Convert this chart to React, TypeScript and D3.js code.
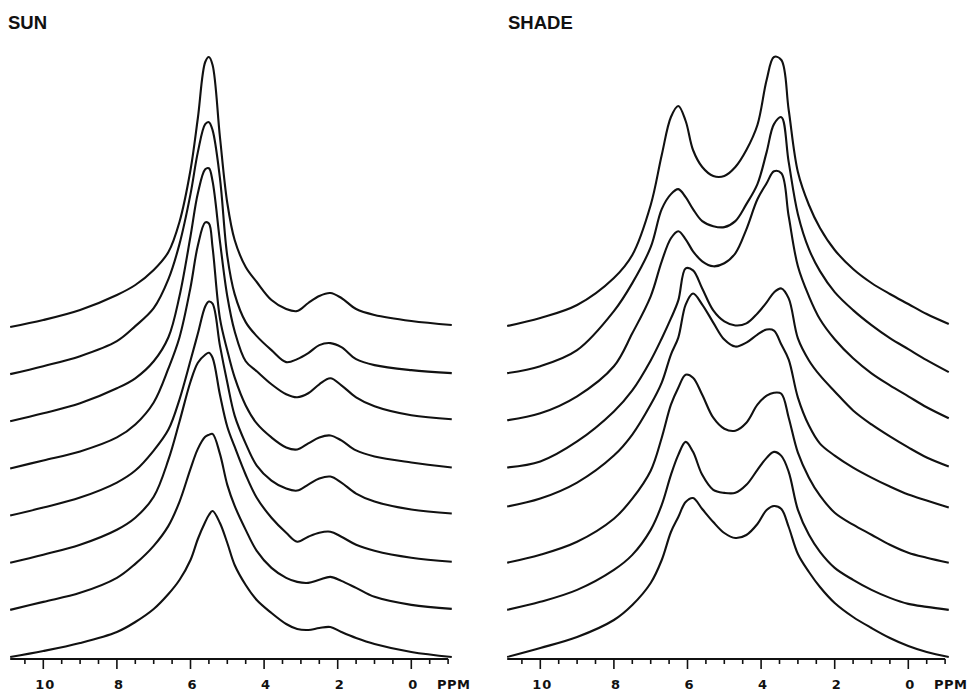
import * as d3 from 'd3'

// chemical shift grids (ppm) the traces were read at
const sunPpm = [10.9, 10, 9, 8, 7.5, 7, 6.6, 6.3, 6.0, 5.8, 5.6, 5.5, 5.4, 5.2, 5.0, 4.8, 4.5, 4.2, 3.8, 3.4, 3.1, 2.8, 2.5, 2.2, 1.9, 1.5, 1.0, 0, -1.1]
const shadePpm = [10.9, 10, 9, 8, 7.5, 7, 6.7, 6.45, 6.25, 6.05, 5.85, 5.6, 5.3, 5.0, 4.7, 4.4, 4.1, 3.85, 3.65, 3.45, 3.25, 3.0, 2.7, 2.4, 2.0, 1.5, 1.0, 0.5, 0, -0.5, -1.1]

// intensities (arb. units), trace 0 = front / bottom
const sun0 = [0, 6, 14, 25, 35, 48, 63, 77, 97, 118, 135, 142, 146, 134, 114, 92, 72, 57, 44, 33, 28, 27, 29, 30, 25, 19, 13, 5, 0]
const sun1 = [0, 8, 17, 32, 46, 64, 84, 108, 141, 161, 173, 175, 176, 156, 125, 104, 80, 59, 42, 32, 28, 27, 30, 33, 29, 22, 13, 5, 1]
const sun2 = [0, 8, 18, 33, 45, 66, 103, 141, 181, 200, 208, 210, 205, 168, 136, 116, 88, 65, 45, 30, 21, 26, 30, 31, 26, 18, 12, 5, 1]
const sun3 = [0, 8, 18, 33, 45, 65, 86, 116, 155, 182, 209, 214, 212, 170, 133, 100, 72, 50, 35, 27, 25, 31, 37, 39, 33, 22, 14, 6, 2]
const sun4 = [0, 8, 17, 31, 44, 66, 100, 131, 181, 223, 246, 245, 221, 150, 118, 91, 63, 45, 31, 21, 19, 25, 31, 33, 28, 18, 12, 6, 1]
const sun5 = [0, 8, 18, 33, 43, 60, 84, 125, 185, 228, 252, 253, 240, 180, 125, 90, 60, 50, 37, 27, 24, 28, 37, 43, 36, 24, 15, 6, 2]
const sun6 = [0, 8, 18, 33, 48, 66, 95, 130, 180, 222, 250, 252, 244, 196, 118, 80, 52, 38, 24, 12, 15, 21, 29, 31, 27, 15, 9, 4, 1]
const sun7 = [0, 7, 17, 32, 42, 57, 75, 105, 157, 209, 265, 270, 262, 190, 124, 87, 60, 45, 27, 18, 16, 24, 31, 34, 29, 18, 12, 6, 2]

const shade0 = [0, 9, 20, 37, 52, 74, 97, 125, 140, 155, 159, 148, 135, 124, 119, 122, 133, 147, 151, 148, 130, 103, 85, 70, 54, 40, 29, 19, 11, 5, 0]
const shade1 = [0, 8, 20, 40, 55, 80, 105, 135, 155, 168, 158, 135, 120, 117, 117, 125, 140, 152, 158, 154, 138, 100, 75, 58, 42, 30, 20, 12, 6, 3, 0]
const shade2 = [0, 8, 21, 44, 64, 92, 125, 158, 175, 188, 185, 168, 145, 134, 132, 140, 158, 167, 170, 169, 145, 110, 85, 67, 50, 38, 28, 18, 10, 5, 0]
const shade3 = [9, 17, 33, 60, 81, 111, 133, 161, 178, 211, 222, 211, 193, 176, 169, 173, 181, 186, 185, 171, 156, 118, 90, 72, 60, 48, 38, 29, 21, 15, 8]
const shade4 = [1, 7, 27, 57, 78, 108, 130, 150, 168, 200, 198, 180, 158, 147, 143, 145, 155, 166, 176, 180, 170, 130, 108, 93, 77, 58, 44, 32, 21, 11, 2]
const shade5 = [1, 8, 25, 55, 88, 125, 160, 183, 190, 182, 170, 160, 155, 158, 168, 192, 222, 238, 250, 248, 205, 155, 125, 102, 82, 63, 48, 36, 25, 14, 3]
const shade6 = [1, 8, 24, 63, 91, 127, 165, 180, 185, 177, 165, 153, 148, 147, 153, 170, 190, 222, 250, 257, 212, 160, 125, 103, 82, 64, 49, 36, 25, 14, 2]
const shade7 = [1, 9, 22, 49, 72, 122, 172, 210, 221, 206, 177, 160, 151, 151, 160, 177, 202, 247, 270, 267, 217, 155, 122, 99, 77, 58, 44, 33, 23, 13, 3]

const sunTraces = [sun0, sun1, sun2, sun3, sun4, sun5, sun6, sun7]
const shadeTraces = [shade0, shade1, shade2, shade3, shade4, shade5, shade6, shade7]

const majorTicks = [10, 8, 6, 4, 2, 0]
const minorTicks = d3.range(-1, 10.51, 0.5).filter(v => !majorTicks.includes(v))

const AXIS_Y = 659
const ink = '#111'

const Panel = ({ title, titleX, ppm, traces, dx }) => {
  const x = d3.scaleLinear().domain([10, 0]).range([43.3 + dx, 411.3 + dx])
  const base = d3.scaleLinear().domain([0, 7]).range([657, 327])
  const h = d3.scaleLinear().domain([0, 300]).range([0, 300])
  const curve = d3.curveCatmullRom.alpha(0.5)

  // back traces first, so the front ones hide what lies behind them
  const order = d3.range(traces.length).reverse()

  return (
    <g>
      <text
        x={titleX}
        y={28.5}
        fontFamily="'Liberation Sans', Arial, sans-serif"
        fontWeight="bold"
        fontSize={18.5}
        fill={ink}
      >
        {title}
      </text>
      {order.map(i => {
        const pts = ppm.map((p, j) => [p, traces[i][j]])
        const b = base(i)
        const line = d3
          .line()
          .x(d => x(d[0]))
          .y(d => b - h(d[1]))
          .curve(curve)
        const area = d3
          .area()
          .x(d => x(d[0]))
          .y0(AXIS_Y - 1)
          .y1(d => b - h(d[1]))
          .curve(curve)
        return (
          <g key={i}>
            <path d={area(pts)} fill="#fff" stroke="none" />
            <path
              d={line(pts)}
              fill="none"
              stroke={ink}
              strokeWidth={2.1}
              strokeLinejoin="round"
            />
          </g>
        )
      })}
      <g>
        <path
          d={`M ${x(10.9)} ${AXIS_Y} H ${x(-1)}`}
          stroke={ink}
          strokeWidth={2}
        />
        {minorTicks.map(v => (
          <path
            key={v}
            d={`M ${x(v)} ${AXIS_Y} V ${AXIS_Y + 5}`}
            stroke={ink}
            strokeWidth={1.6}
          />
        ))}
        {majorTicks.map(v => (
          <g key={v}>
            <path
              d={`M ${x(v)} ${AXIS_Y} V ${AXIS_Y + 10}`}
              stroke={ink}
              strokeWidth={1.6}
            />
            <text
              x={x(v) + 2}
              y={689}
              textAnchor="middle"
              fontFamily="'DejaVu Sans', sans-serif"
              fontWeight="bold"
              fontSize={13}
              letterSpacing={1}
              fill={ink}
            >
              {v}
            </text>
          </g>
        ))}
        <text
          x={437 + dx}
          y={689}
          fontFamily="'DejaVu Sans', sans-serif"
          fontWeight="bold"
          fontSize={13}
          letterSpacing={0.5}
          fill={ink}
        >
          PPM
        </text>
      </g>
    </g>
  )
}

export default function App() {
  return (
    <svg
      width={969}
      height={692}
      style={{ position: 'absolute', left: 0, top: 0, background: '#fff' }}
    >
      <rect width={969} height={692} fill="#fff" />
      <Panel title="SUN" titleX={8} ppm={sunPpm} traces={sunTraces} dx={0} />
      <Panel title="SHADE" titleX={508} ppm={shadePpm} traces={shadeTraces} dx={497} />
    </svg>
  )
}
